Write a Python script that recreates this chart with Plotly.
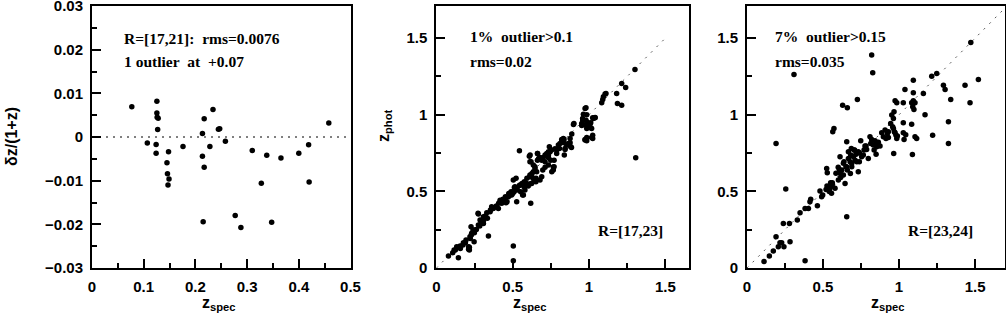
import plotly.graph_objects as go

# left panel: R=[17,21]
zspec_bright = [0.077, 0.107, 0.1255, 0.1255, 0.126, 0.128, 0.127, 0.124, 0.124,
                0.148, 0.145, 0.146, 0.149, 0.147, 0.176, 0.2136, 0.217, 0.2136,
                0.217, 0.215, 0.234, 0.228, 0.2445, 0.247, 0.258, 0.277, 0.288,
                0.310, 0.3275, 0.338, 0.3475, 0.3655, 0.400, 0.419, 0.420, 0.458]
dz_bright = [0.0069, -0.0014, 0.0082, 0.0055, 0.0045, 0.0043, 0.0017, -0.0017, -0.0037,
             -0.0034, -0.0059, -0.0084, -0.0096, -0.0110, -0.0022, 0.0008, 0.0042, -0.0044,
             -0.0069, -0.0194, 0.0063, -0.0022, 0.0018, 0.0019, -0.0010, -0.0180, -0.0207,
             -0.0031, -0.0106, -0.0042, -0.0195, -0.0048, -0.0037, -0.0018, -0.0103, 0.0032]

# middle panel: R=[17,23]
zspec_mid = [0.079, 0.107, 0.116, 0.144, 0.133, 0.155, 0.177, 0.194, 0.216, 0.216,
             0.220, 0.231, 0.227, 0.247, 0.253, 0.275, 0.275, 0.286, 0.308, 0.308,
             0.330, 0.341, 0.334, 0.352, 0.362, 0.373, 0.390, 0.406, 0.417, 0.428,
             0.450, 0.456, 0.472, 0.483, 0.500, 0.509, 0.504, 0.504, 0.515, 0.522,
             0.530, 0.526, 0.544, 0.544, 0.552, 0.570, 0.574, 0.592, 0.613, 0.609,
             0.613, 0.618, 0.624, 0.635, 0.646, 0.640, 0.653, 0.662, 0.662, 0.670,
             0.679, 0.690, 0.700, 0.712, 0.712, 0.723, 0.734, 0.740, 0.734, 0.749,
             0.755, 0.766, 0.771, 0.777, 0.788, 0.799, 0.810, 0.821, 0.832, 0.836,
             0.843, 0.854, 0.838, 0.876, 0.885, 0.901, 0.952, 0.958, 0.963, 0.974,
             0.980, 0.974, 0.985, 0.974, 0.985, 1.000, 1.011, 1.017, 1.024, 1.024,
             1.028, 1.040, 1.083, 1.090, 1.094, 1.105, 1.111, 1.181, 1.186, 1.214,
             1.214, 1.240, 1.301, 1.306,
             0.124, 0.139, 0.157, 0.174, 0.190, 0.211, 0.211, 0.222, 0.229, 0.240,
             0.249, 0.262, 0.273, 0.284, 0.292, 0.310, 0.321, 0.354, 0.393, 0.408,
             0.423, 0.436, 0.452, 0.463, 0.474, 0.489, 0.511, 0.561, 0.576, 0.593,
             0.611, 0.620, 0.626,
             0.614, 0.620, 0.663, 0.635, 0.646, 0.657, 0.635, 0.652, 0.679, 0.690,
             0.697, 0.712, 0.734, 0.745, 0.734, 0.756, 0.766, 0.771, 0.788, 0.806,
             0.821, 0.836, 0.843, 0.865, 0.880, 0.876, 0.887, 0.898, 0.952, 0.959,
             0.980, 0.985, 0.989, 1.007, 1.011, 1.024, 1.039, 0.974, 0.985, 1.017,
             0.504, 0.548, 0.526, 0.504, 0.493, 0.565, 0.580, 0.602, 0.624]
zphot_mid = [0.078, 0.100, 0.117, 0.067, 0.139, 0.143, 0.165, 0.183, 0.117, 0.135,
             0.204, 0.226, 0.270, 0.172, 0.248, 0.280, 0.352, 0.313, 0.291, 0.335,
             0.361, 0.209, 0.324, 0.367, 0.400, 0.389, 0.400, 0.389, 0.443, 0.422,
             0.443, 0.426, 0.465, 0.476, 0.487, 0.498, 0.143, 0.048, 0.530, 0.585,
             0.509, 0.433, 0.539, 0.765, 0.498, 0.476, 0.530, 0.552, 0.607, 0.730,
             0.693, 0.422, 0.596, 0.628, 0.661, 0.574, 0.585, 0.704, 0.748, 0.715,
             0.722, 0.704, 0.722, 0.737, 0.657, 0.748, 0.759, 0.791, 0.722, 0.704,
             0.770, 0.639, 0.661, 0.778, 0.770, 0.802, 0.813, 0.839, 0.846, 0.817,
             0.780, 0.802, 0.737, 0.817, 0.787, 0.943, 0.943, 0.976, 1.004, 1.041,
             0.965, 0.933, 0.911, 0.835, 0.852, 0.922, 0.948, 0.911, 0.867, 0.846,
             0.976, 0.983, 1.078, 1.100, 1.117, 1.135, 1.139, 1.139, 1.074, 1.063,
             1.204, 1.178, 1.296, 0.720,
             0.117, 0.134, 0.128, 0.150, 0.165, 0.139, 0.122, 0.193, 0.215, 0.248,
             0.230, 0.252, 0.357, 0.274, 0.302, 0.313, 0.339, 0.378, 0.404, 0.422,
             0.439, 0.448, 0.465, 0.433, 0.487, 0.498, 0.526, 0.552, 0.563, 0.585,
             0.596, 0.552, 0.617,
             0.737, 0.694, 0.748, 0.672, 0.650, 0.628, 0.585, 0.563, 0.574, 0.596,
             0.639, 0.694, 0.737, 0.759, 0.672, 0.628, 0.659, 0.704, 0.748, 0.780,
             0.824, 0.839, 0.774, 0.813, 0.791, 0.846, 0.874, 0.937, 0.930, 0.963,
             1.046, 1.000, 0.952, 0.941, 0.915, 0.980, 0.980, 0.839, 0.830, 0.852,
             0.574, 0.541, 0.520, 0.498, 0.476, 0.476, 0.509, 0.535, 0.552]

# right panel: R=[23,24]
zspec_faint = [0.112, 0.382, 0.147, 0.173, 0.206, 0.217, 0.228, 0.243, 0.191, 0.239,
               0.279, 0.283, 0.255, 0.191, 0.309, 0.331, 0.349, 0.382, 0.404, 0.414,
               0.419, 0.463, 0.480, 0.491, 0.498, 0.520, 0.526, 0.524, 0.528, 0.542,
               0.550, 0.564, 0.572, 0.561, 0.579, 0.601, 0.607, 0.612, 0.623, 0.629,
               0.634, 0.645, 0.656, 0.656, 0.660, 0.654, 0.660, 0.667, 0.667, 0.678,
               0.682, 0.689, 0.700, 0.704, 0.711, 0.717, 0.722, 0.726, 0.732, 0.732,
               0.739, 0.748, 0.754, 0.765, 0.770, 0.783, 0.787, 0.798, 0.809, 0.814,
               0.820, 0.827, 0.820, 0.831, 0.836, 0.842, 0.849, 0.853, 0.857, 0.886,
               0.897, 0.914, 0.923, 0.930, 0.945, 0.952, 0.963, 0.967, 0.963, 0.969,
               0.974, 0.985, 0.980, 0.985, 0.965, 1.028, 1.028, 1.028, 1.033, 1.039,
               1.044, 1.083, 1.083, 1.088, 1.090, 1.094, 1.094, 1.098, 1.105, 1.094,
               1.105, 1.116, 1.160, 1.171, 1.215, 1.221, 1.248, 1.292, 1.303, 1.325,
               1.325, 1.340, 1.434, 1.467, 1.522, 1.472,
               0.600, 0.623, 0.651, 0.689, 0.638, 0.708, 0.720, 0.739, 0.686, 0.612,
               0.634, 0.680, 0.585, 0.616, 0.776, 0.864, 0.875, 0.908, 0.930, 0.974,
               0.989, 0.958, 0.541, 0.548, 0.556, 0.562]
zphot_faint = [0.043, 0.048, 0.078, 0.111, 0.139, 0.165, 0.165, 0.139, 0.204, 0.291,
               0.291, 0.172, 0.515, 0.813, 1.263, 0.313, 0.361, 0.389, 0.389, 0.433,
               0.448, 0.407, 0.502, 0.465, 0.476, 0.513, 0.535, 0.650, 0.622, 0.509,
               0.557, 0.889, 0.911, 0.557, 0.520, 0.574, 0.643, 0.726, 0.607, 1.063,
               0.683, 0.552, 0.335, 0.824, 1.046, 0.661, 0.639, 0.715, 0.759, 0.693,
               0.737, 0.683, 0.726, 0.770, 0.704, 0.743, 0.693, 1.100, 0.759, 0.628,
               0.693, 0.830, 0.726, 0.737, 0.770, 0.796, 0.774, 0.715, 0.857, 0.813,
               0.839, 1.274, 1.390, 0.802, 0.770, 0.830, 0.743, 0.791, 0.817, 0.883,
               0.857, 0.846, 0.878, 0.852, 0.943, 0.998, 0.976, 1.020, 0.911, 0.889,
               1.091, 1.078, 0.867, 0.846, 0.748, 1.078, 0.948, 0.883, 0.839, 1.165,
               0.870, 1.078, 0.939, 0.741, 1.052, 1.091, 1.143, 1.035, 1.078, 1.226,
               0.857, 0.846, 1.139, 1.000, 1.252, 0.867, 1.270, 1.193, 1.165, 0.954,
               0.813, 1.100, 1.193, 1.078, 1.230, 1.472,
               0.657, 0.639, 0.661, 0.661, 0.693, 0.770, 0.748, 0.752, 0.780, 0.618,
               0.607, 0.617, 0.618, 0.591, 0.796, 0.820, 0.796, 0.900, 0.890, 0.883,
               0.862, 0.922, 0.500, 0.525, 0.488, 0.546]

# reference lines
zero_x = [0.0, 0.5]
zero_y = [0.0, 0.0]
one2one_mid = [0.0, 1.5]
one2one_faint = [0.0, 1.7]

FONT = "Liberation Sans"
NOTE_FONT = "Liberation Serif"

fig = go.Figure()

dot = dict(color="black", size=5.5)
fig.add_trace(go.Scatter(x=zero_x, y=zero_y, mode="lines",
                         line=dict(color="black", width=1, dash="2px,5px"),
                         xaxis="x", yaxis="y"))
fig.add_trace(go.Scatter(x=zspec_bright, y=dz_bright, mode="markers", marker=dot,
                         xaxis="x", yaxis="y"))
fig.add_trace(go.Scatter(x=one2one_mid, y=one2one_mid, mode="lines",
                         line=dict(color="#555", width=1, dash="2px,6px"),
                         xaxis="x2", yaxis="y2"))
fig.add_trace(go.Scatter(x=zspec_mid, y=zphot_mid, mode="markers", marker=dot,
                         xaxis="x2", yaxis="y2"))
fig.add_trace(go.Scatter(x=one2one_faint, y=one2one_faint, mode="lines",
                         line=dict(color="#555", width=1, dash="2px,6px"),
                         xaxis="x3", yaxis="y3"))
fig.add_trace(go.Scatter(x=zspec_faint, y=zphot_faint, mode="markers", marker=dot,
                         xaxis="x3", yaxis="y3"))

W, H = 1006, 320
ydom = [1 - 268 / H, 1 - 6 / H]


def axis(rng, dtick, minor, anchor, domain=None, overlaying=None, side=None, labels=True):
    ax = dict(
        range=rng, dtick=dtick, tick0=0, anchor=anchor, automargin=False,
        showgrid=False, zeroline=False, showline=True, linecolor="black",
        linewidth=2, mirror=True, ticks="inside", ticklen=9, tickwidth=1.5,
        tickcolor="black", ticklabelstandoff=4, showticklabels=labels,
        ticklabeloverflow="allow",
        tickfont=dict(family=FONT, size=15, color="black", weight="bold"),
        minor=dict(dtick=minor, ticks="inside", ticklen=5, tickwidth=1.5,
                   tickcolor="black", showgrid=False),
    )
    if domain is not None:
        ax["domain"] = domain
    if overlaying is not None:
        ax["overlaying"] = overlaying
        ax["side"] = side
    return ax


panels = [
    ("x", "y", [92 / W, 350.5 / W], [0, 0.5], 0.1, 0.05, [-0.03, 0.03], 0.01, 0.005),
    ("x2", "y2", [436.4 / W, 689 / W], [0, 1.655], 0.5, 0.25, [0, 1.71], 0.5, 0.25),
    ("x3", "y3", [747 / W, 1005 / W], [0, 1.697], 0.5, 0.25, [0, 1.71], 0.5, 0.25),
]
layout_axes = {}
for i, (xa, ya, xdom, xr, xd, xm, yr, yd, ym) in enumerate(panels):
    xkey = "xaxis" + xa[1:]
    ykey = "yaxis" + ya[1:]
    layout_axes[xkey] = axis(xr, xd, xm, ya, domain=xdom)
    layout_axes[ykey] = axis(yr, yd, ym, xa, domain=ydom)
    # mirrored tick marks on the top and right sides
    n = i + 4
    layout_axes["xaxis%d" % n] = axis(xr, xd, xm, ya, overlaying=xa, side="top", labels=False)
    layout_axes["yaxis%d" % n] = axis(yr, yd, ym, xa, overlaying=ya, side="right", labels=False)

fig.update_layout(
    width=W, height=H, margin=dict(l=0, r=0, t=0, b=0),
    paper_bgcolor="white", plot_bgcolor="white", showlegend=False,
    **layout_axes,
)

notes = [
    ("R=[17,21]:  rms=0.0076", 122, 38, "left"),
    ("1 outlier  at  +0.07", 122, 61, "left"),
    ("1%  outlier>0.1", 468, 37, "left"),
    ("rms=0.02", 468, 62, "left"),
    ("R=[17,23]", 665, 230, "right"),
    ("7%  outlier>0.15", 773, 37, "left"),
    ("rms=0.035", 773, 62, "left"),
    ("R=[23,24]", 975, 230, "right"),
]
for text, px, py, anchor in notes:
    fig.add_annotation(text=text.replace("  ", "&nbsp; "), x=px / W, y=1 - py / H,
                       xref="paper", yref="paper",
                       xanchor=anchor, yanchor="middle", showarrow=False,
                       font=dict(family=NOTE_FONT, size=15.5, color="black", weight="bold"))

titles = [
    ("z<sub>spec</sub>", 219, 303, 0),
    ("z<sub>spec</sub>", 530, 303, 0),
    ("z<sub>spec</sub>", 888, 303, 0),
    ("\u03b4z/(1+z)", 11, 137, -90),
    ("z<sub>phot</sub>", 384, 126, -90),
]
for text, px, py, ang in titles:
    fig.add_annotation(text=text, x=px / W, y=1 - py / H, xref="paper", yref="paper",
                       xanchor="center", yanchor="middle", showarrow=False, textangle=ang,
                       font=dict(family=FONT, size=16, color="black", weight="bold"))

fig.write_html("out.html", config={"displayModeBar": False},
               post_script="document.body.style.margin='0';")
